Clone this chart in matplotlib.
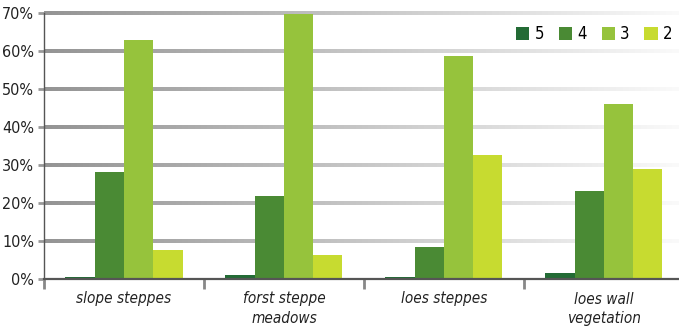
import numpy as np
import matplotlib
matplotlib.use("Agg")
import matplotlib.pyplot as plt
from matplotlib.ticker import FuncFormatter

plt.rcParams['font.family'] = ['DejaVu Sans']
plt.rcParams['font.stretch'] = 'condensed'

categories = ['slope steppes', 'forst steppe\nmeadows', 'loes steppes', 'loes wall\nvegetation']
series = ['5', '4', '3', '2']
vals_5 = [0.6, 1.1, 0.4, 1.6]
vals_4 = [28.2, 21.8, 8.4, 23.2]
vals_3 = [62.9, 69.7, 58.7, 46.0]
vals_2 = [7.6, 6.3, 32.6, 28.9]
colors = ['#236b35', '#4a8a34', '#96c33c', '#c7db30']

fig = plt.figure(figsize=(6.79, 3.34), dpi=100)
ax = fig.add_axes([44 / 679, 55 / 334, 1 - 44 / 679, 266 / 334])

xlim = (-0.5, 3.47)

# gradient grid lines, dark at the left and fading out to the right
grad = np.linspace(0.58, 0.98, 256)
grad = np.dstack([grad, grad, grad])
for yv in range(10, 71, 10):
    ax.imshow(grad, extent=[xlim[0], xlim[1], yv - 0.4, yv + 0.4], aspect='auto',
              zorder=0, clip_on=False, interpolation='bilinear')
ax.set_xlim(*xlim)
ax.set_ylim(0, 70)

x = np.arange(len(categories))
w = 0.183
all_vals = [vals_5, vals_4, vals_3, vals_2]
for i, (v, c, s) in enumerate(zip(all_vals, colors, series)):
    ax.bar(x + (i - 1.5) * w, v, w, color=c, label=s, zorder=2)

for sp in ['top', 'right']:
    ax.spines[sp].set_visible(False)
ax.spines['bottom'].set_color('#555555')
ax.spines['bottom'].set_linewidth(1.6)
ax.spines['left'].set_color('#555555')
ax.spines['left'].set_linewidth(1.0)

ax.set_yticks(range(0, 71, 10))
ax.yaxis.set_major_formatter(FuncFormatter(lambda v, p: f'{int(v)}%'))
ax.tick_params(axis='y', length=4, width=2, color='#999999', labelsize=11.5, pad=3,
               labelcolor='#222222')

ax.set_xticks([-0.5, 0.5, 1.5, 2.5])
ax.set_xticklabels([])
ax.set_xticks(x, minor=True)
ax.set_xticklabels(categories, minor=True, style='italic', fontsize=11, linespacing=1.35,
                   color='#222222')
ax.tick_params(axis='x', which='major', length=7, width=2, color='#888888')
ax.tick_params(axis='x', which='minor', length=0, pad=9)

ax.legend(loc='upper right', bbox_to_anchor=(1.013, 1.01), ncol=4, frameon=False,
          handlelength=0.8, handleheight=0.8, handletextpad=0.3, columnspacing=0.9,
          fontsize=12)

fig.savefig('out.png', dpi=100)
